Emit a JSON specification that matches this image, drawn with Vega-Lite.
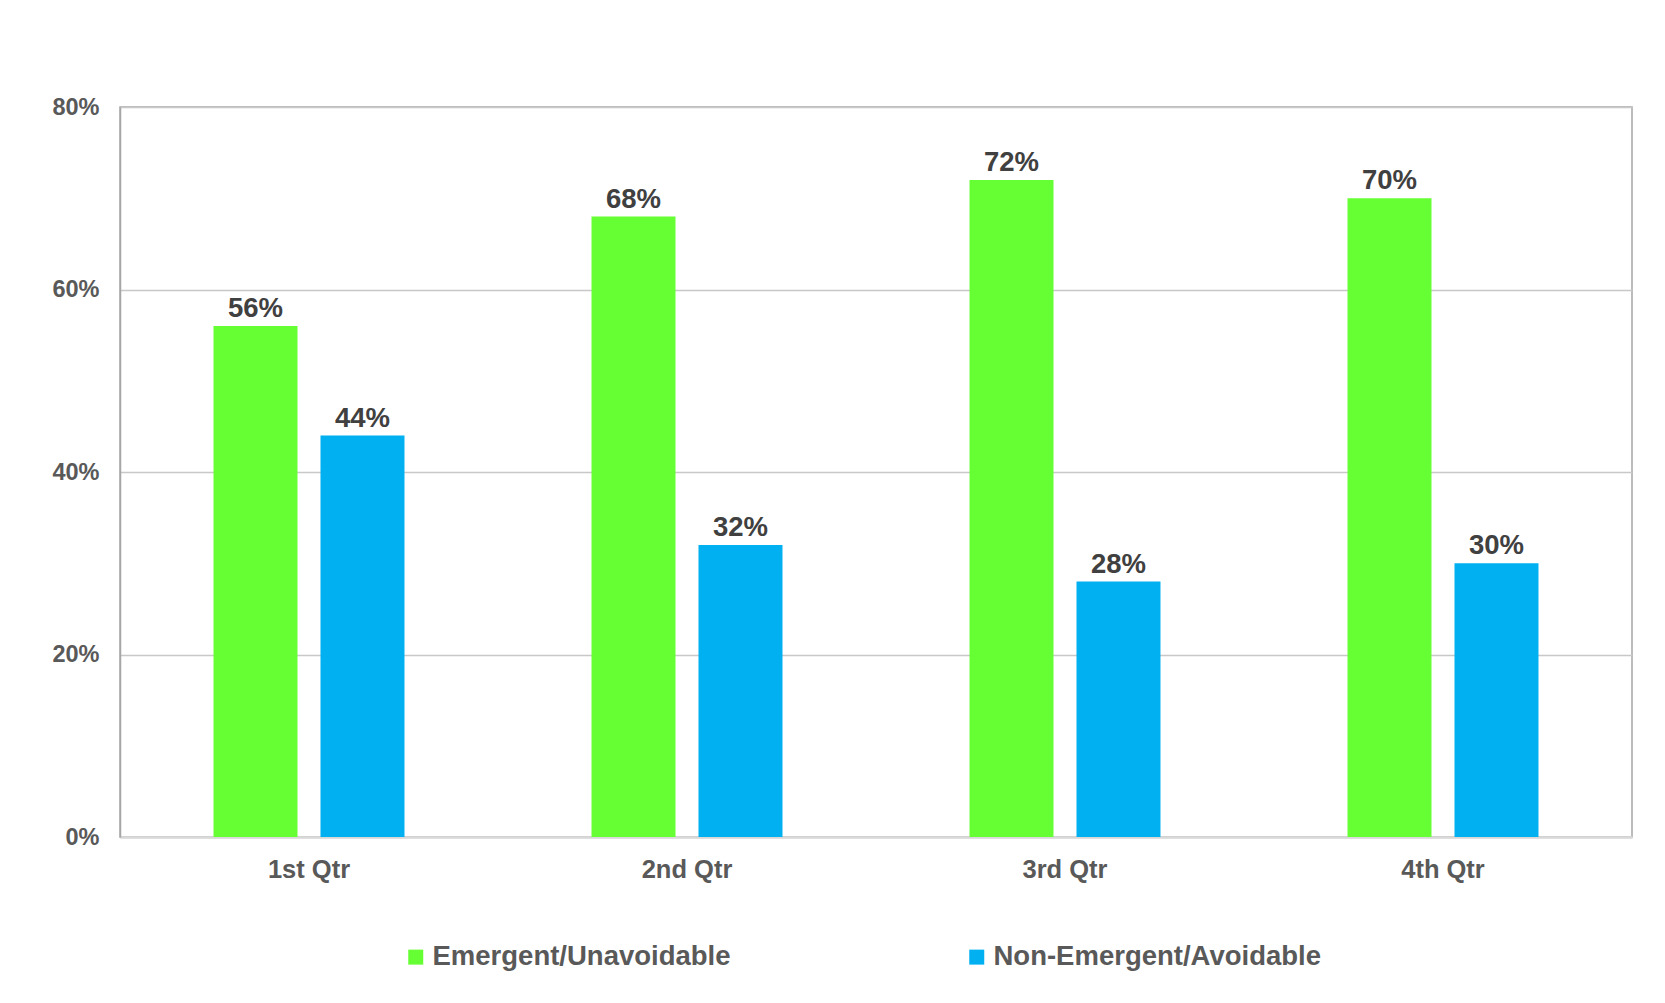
{
  "$schema": "https://vega.github.io/schema/vega-lite/v6.json",
  "width": 1512,
  "height": 730,
  "autosize": {"type": "none"},
  "padding": {"left": 120, "top": 107, "right": 33, "bottom": 166},
  "background": "white",
  "config": {
    "font": "Liberation Sans",
    "view": {"stroke": "#A6A6A6", "strokeWidth": 1.5}
  },
  "data": {
    "values": [
      {"quarter": "1st Qtr", "series": "Emergent/Unavoidable", "value": 0.56},
      {"quarter": "1st Qtr", "series": "Non-Emergent/Avoidable", "value": 0.44},
      {"quarter": "2nd Qtr", "series": "Emergent/Unavoidable", "value": 0.68},
      {"quarter": "2nd Qtr", "series": "Non-Emergent/Avoidable", "value": 0.32},
      {"quarter": "3rd Qtr", "series": "Emergent/Unavoidable", "value": 0.72},
      {"quarter": "3rd Qtr", "series": "Non-Emergent/Avoidable", "value": 0.28},
      {"quarter": "4th Qtr", "series": "Emergent/Unavoidable", "value": 0.70},
      {"quarter": "4th Qtr", "series": "Non-Emergent/Avoidable", "value": 0.30}
    ]
  },
  "encoding": {
    "x": {
      "field": "quarter", "type": "nominal", "sort": null,
      "scale": {"paddingInner": 0, "paddingOuter": 0},
      "axis": {
        "title": null, "labelAngle": 0, "ticks": false,
        "labelFont": "Liberation Sans", "labelFontWeight": "bold", "labelFontSize": 25.5,
        "labelColor": "#595959", "labelPadding": 20,
        "domainColor": "#D9D9D9", "domainWidth": 2.5
      }
    },
    "xOffset": {
      "field": "series", "type": "nominal",
      "scale": {"paddingInner": 0.215, "paddingOuter": 0.874}
    },
    "y": {
      "field": "value", "type": "quantitative",
      "scale": {"domain": [0, 0.8], "nice": false},
      "axis": {
        "title": null, "values": [0, 0.2, 0.4, 0.6, 0.8], "format": ".0%",
        "ticks": false, "labelPadding": 21,
        "labelFont": "Liberation Sans", "labelFontWeight": "bold", "labelFontSize": 23.5,
        "labelColor": "#595959",
        "domainColor": "#A6A6A6", "domainWidth": 1.5,
        "gridColor": "#C8C8C8", "gridWidth": 1.5
      }
    }
  },
  "layer": [
    {
      "mark": {"type": "bar"},
      "encoding": {
        "color": {
          "field": "series", "type": "nominal",
          "scale": {"domain": ["Emergent/Unavoidable", "Non-Emergent/Avoidable"], "range": ["#66FF33", "#00B0F0"]},
          "legend": {
            "title": null, "orient": "none", "direction": "horizontal",
            "legendX": 282, "legendY": 836,
            "symbolType": "square", "symbolSize": 225, "symbolStrokeWidth": 0,
            "labelFont": "Liberation Sans", "labelFontWeight": "bold", "labelFontSize": 27.5,
            "labelColor": "#595959", "labelOffset": 3, "columnPadding": 232,
            "labelLimit": 500
          }
        }
      }
    },
    {
      "mark": {"type": "text", "baseline": "bottom", "dy": -3, "font": "Liberation Sans", "fontWeight": "bold", "fontSize": 27.5, "color": "#404040"},
      "encoding": {
        "text": {"field": "value", "type": "quantitative", "format": ".0%"}
      }
    }
  ]
}
